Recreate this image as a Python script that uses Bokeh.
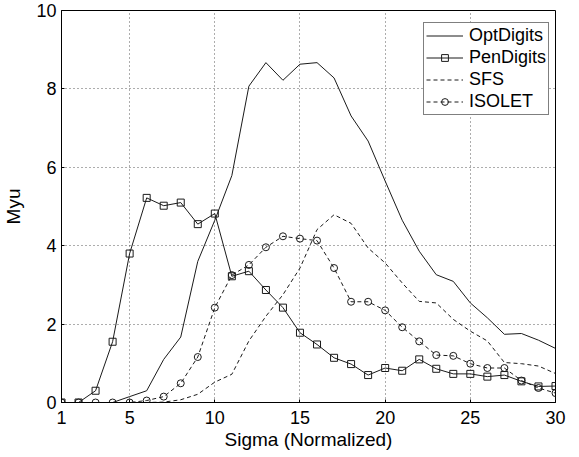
from bokeh.plotting import figure
from bokeh.models import FixedTicker, Range1d, Legend, LegendItem
from bokeh.embed import file_html
from bokeh.resources import INLINE

sigma = [1, 2, 3, 4, 5, 6, 7, 8, 9, 10, 11, 12, 13, 14, 15,
         16, 17, 18, 19, 20, 21, 22, 23, 24, 25, 26, 27, 28, 29, 30]
optdigits = [0, 0, 0, 0, 0.15, 0.3, 1.1, 1.67, 3.6, 4.65, 5.79, 8.07, 8.67, 8.22, 8.63,
             8.67, 8.28, 7.31, 6.67, 5.65, 4.65, 3.86, 3.26, 3.09, 2.54, 2.16, 1.74, 1.76, 1.59, 1.38]
pendigits = [0, 0, 0.3, 1.55, 3.8, 5.22, 5.02, 5.1, 4.55, 4.82, 3.22, 3.35, 2.87, 2.42, 1.78,
             1.48, 1.14, 0.98, 0.7, 0.88, 0.81, 1.1, 0.86, 0.73, 0.73, 0.66, 0.7, 0.54, 0.41, 0.42]
sfs = [0, 0, 0, 0, 0, 0, 0.01, 0.07, 0.21, 0.52, 0.72, 1.57, 2.2, 2.75, 3.43,
       4.41, 4.79, 4.57, 3.94, 3.56, 3.05, 2.58, 2.54, 2.12, 1.82, 1.57, 1.02, 0.99, 0.93, 0.74]
isolet = [0, 0, 0, 0, 0, 0.05, 0.15, 0.49, 1.16, 2.42, 3.25, 3.51, 3.96, 4.24, 4.18,
          4.13, 3.43, 2.57, 2.57, 2.35, 1.92, 1.56, 1.21, 1.19, 0.99, 0.88, 0.88, 0.56, 0.37, 0.24]
x_ticks = [1, 5, 10, 15, 20, 25, 30]
y_ticks = [0, 2, 4, 6, 8, 10]

FONT = "Liberation Sans"

p = figure(width=579, height=457, output_backend="svg", toolbar_location=None,
           x_range=Range1d(1, 30), y_range=Range1d(0, 10),
           min_border_left=60, min_border_right=24, min_border_top=10, min_border_bottom=55)

p.outline_line_color = "black"
p.outline_line_width = 1
p.background_fill_color = "white"

for ax in (p.xaxis[0], p.yaxis[0]):
    ax.major_label_text_font = FONT
    ax.major_label_text_font_size = "18px"
    ax.major_label_text_color = "black"
    ax.axis_label_text_font = FONT
    ax.axis_label_text_font_size = "19px"
    ax.axis_label_text_font_style = "normal"
    ax.axis_label_text_color = "black"
    ax.major_tick_in = 3
    ax.major_tick_out = 0
    ax.minor_tick_in = 0
    ax.minor_tick_out = 0
    ax.axis_line_color = "black"
    ax.major_tick_line_color = "black"

p.xaxis[0].ticker = FixedTicker(ticks=x_ticks)
p.yaxis[0].ticker = FixedTicker(ticks=y_ticks)
p.xaxis[0].axis_label = "Sigma (Normalized)"
p.yaxis[0].axis_label = "Myu"
p.xaxis[0].major_label_standoff = 8
p.xaxis[0].axis_label_standoff = 2
p.yaxis[0].major_label_standoff = 5
p.yaxis[0].axis_label_standoff = 9

for g in (p.xgrid[0], p.ygrid[0]):
    g.grid_line_color = "#333333"
    g.grid_line_dash = "1 3"
    g.grid_line_width = 1
    g.grid_line_alpha = 0.8

c = "#1a1a1a"
r_opt = p.line(sigma, optdigits, line_color=c, line_width=1)
r_pen_l = p.line(sigma, pendigits, line_color=c, line_width=1)
r_pen_m = p.scatter(sigma, pendigits, marker="square", size=7, line_color=c,
                    fill_alpha=0, line_width=1)
r_sfs = p.line(sigma, sfs, line_color=c, line_width=1, line_dash="4 3")
r_iso_l = p.line(sigma, isolet, line_color=c, line_width=1, line_dash="4 3")
r_iso_m = p.scatter(sigma, isolet, marker="circle", size=7, line_color=c,
                    fill_alpha=0, line_width=1)

legend = Legend(items=[
    LegendItem(label="OptDigits", renderers=[r_opt]),
    LegendItem(label="PenDigits", renderers=[r_pen_l, r_pen_m]),
    LegendItem(label="SFS", renderers=[r_sfs]),
    LegendItem(label="ISOLET", renderers=[r_iso_l, r_iso_m]),
], location=(362, 287))
legend.label_text_font = FONT
legend.label_text_font_size = "18px"
legend.label_text_color = "black"
legend.glyph_width = 37
legend.glyph_height = 17
legend.label_height = 17
legend.label_width = 76
legend.spacing = 1
legend.padding = 2
legend.label_standoff = 6
legend.margin = 0
legend.border_line_color = "black"
legend.border_line_width = 1
legend.background_fill_color = "white"
legend.background_fill_alpha = 1
p.add_layout(legend)

open("out.html", "w").write(file_html(p, INLINE))
